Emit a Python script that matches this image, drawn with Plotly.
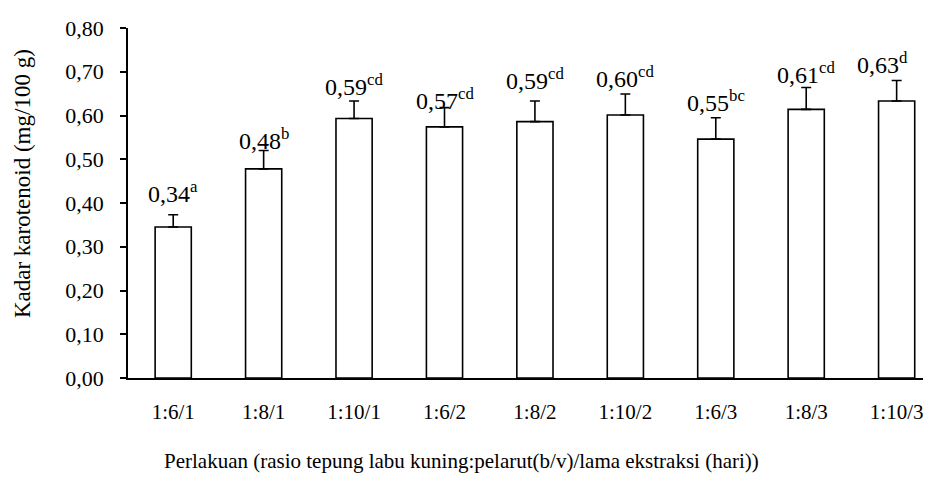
import plotly.graph_objects as go

categories = ["1:6/1", "1:8/1", "1:10/1", "1:6/2", "1:8/2", "1:10/2", "1:6/3", "1:8/3", "1:10/3"]
values = [0.345, 0.478, 0.593, 0.574, 0.586, 0.601, 0.546, 0.614, 0.633]
errors = [0.028, 0.042, 0.040, 0.044, 0.047, 0.048, 0.049, 0.050, 0.047]
value_text = ["0,34", "0,48", "0,59", "0,57", "0,59", "0,60", "0,55", "0,61", "0,63"]
letters = ["a", "b", "cd", "cd", "cd", "cd", "bc", "cd", "d"]
y_ticks = [0.0, 0.1, 0.2, 0.3, 0.4, 0.5, 0.6, 0.7, 0.8]
x_title = "Perlakuan (rasio tepung labu kuning:pelarut(b/v)/lama ekstraksi (hari))"
y_title = "Kadar karotenoid (mg/100 g)"

# per-label pixel nudges (layout only)
label_yshift = [6, -5, -1, -8, 5, 0, 0, -2, 1]
label_xshift = [0, 0, 0, 0, 0, 0, 0, 0, -14]

FONT = "Liberation Serif, Times New Roman, serif"

fig = go.Figure()
fig.add_trace(go.Bar(
    x=list(range(len(categories))),
    y=values,
    width=0.40,
    marker=dict(color="white", line=dict(color="black", width=1.6)),
    error_y=dict(type="data", array=errors, arrayminus=[0] * len(errors),
                 symmetric=False, color="black", thickness=1.6, width=5),
    showlegend=False,
))

for i, (v, e, t, l) in enumerate(zip(values, errors, value_text, letters)):
    fig.add_annotation(
        x=i, y=v + e, xref="x", yref="y",
        text=f"{t}<sup>{l}</sup>", showarrow=False,
        yanchor="bottom", xanchor="center",
        yshift=label_yshift[i], xshift=label_xshift[i],
        font=dict(family=FONT, size=24, color="black"),
    )

fig.add_annotation(
    x=0.415, y=-0.237, xref="paper", yref="paper",
    text=x_title, showarrow=False, xanchor="center", yanchor="middle",
    font=dict(family=FONT, size=21, color="black"),
)
fig.add_annotation(
    x=-0.132, y=0.554, xref="paper", yref="paper",
    text=y_title, showarrow=False, xanchor="center", yanchor="middle",
    textangle=-90,
    font=dict(family=FONT, size=23, color="black"),
)

fig.update_layout(
    width=931, height=479,
    margin=dict(l=120, r=8, t=16, b=109),
    paper_bgcolor="white", plot_bgcolor="white",
    separators=",.",
    font=dict(family=FONT, size=20, color="black"),
)
fig.update_xaxes(
    tickvals=list(range(len(categories))), ticktext=categories,
    range=[-0.5, 8.38], showline=True, linecolor="black", linewidth=1.6,
    ticks="", showgrid=False, zeroline=False, ticklabelstandoff=14,
    tickfont=dict(family=FONT, size=21),
)
fig.update_yaxes(
    range=[0, 0.8], tickvals=y_ticks, tickformat=".2f",
    showline=True, linecolor="black", linewidth=1.6,
    ticks="outside", ticklen=6, tickwidth=1.6, tickcolor="black",
    showgrid=False, zeroline=False, ticklabelstandoff=12,
    tickfont=dict(family=FONT, size=22),
)

fig.write_html("out.html")
